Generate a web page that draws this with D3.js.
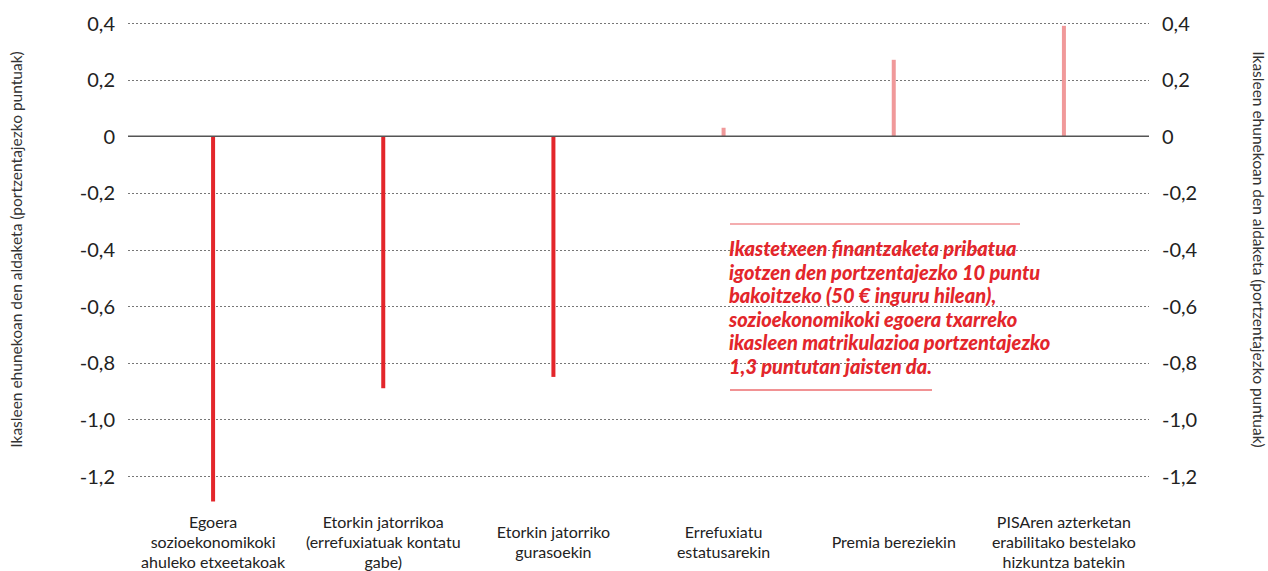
<!DOCTYPE html>
<html lang="eu">
<head>
<meta charset="UTF-8">
<title>Ikasleen ehunekoan den aldaketa</title>
<style>
  body { margin: 0; background: #fff; font-family: Lato, 'Open Sans', sans-serif; }
  .grid line { stroke: #777; stroke-width: 1; stroke-dasharray: 2 2; }
  .tick text { font-size: 20px; fill: #222; font-family: Lato, sans-serif; }
  .cat { font-size: 16px; fill: #222; text-anchor: middle; }
  .ytitle { font-size: 15.5px; fill: #333; text-anchor: middle; }
  .note { font-size: 20px; font-weight: 900; font-style: italic; fill: #e3262b; }
</style>
</head>
<body>
<script src="https://d3js.org/d3.v7.min.js"></script>
<script>
// categories (each as lines of label text)
const categories = [
  ["Egoera", "sozioekonomikoki", "ahuleko etxeetakoak"],
  ["Etorkin jatorrikoa", "(errefuxiatuak kontatu", "gabe)"],
  ["Etorkin jatorriko", "gurasoekin"],
  ["Errefuxiatu", "estatusarekin"],
  ["Premia bereziekin"],
  ["PISAren azterketan", "erabilitako bestelako", "hizkuntza batekin"]
];
const values = [-1.29, -0.89, -0.85, 0.03, 0.27, 0.39];
const tickValues = [0.4, 0.2, 0, -0.2, -0.4, -0.6, -0.8, -1.0, -1.2];
const yTitle = "Ikasleen ehunekoan den aldaketa (portzentajezko puntuak)";
const noteLines = [
  "Ikastetxeen finantzaketa pribatua",
  "igotzen den portzentajezko 10 puntu",
  "bakoitzeko (50 € inguru hilean),",
  "sozioekonomikoki egoera txarreko",
  "ikasleen matrikulazioa portzentajezko",
  "1,3 puntutan jaisten da."
];

const width = 1268, height = 571;
const left = 128, right = 1149;

const svg = d3.select("body").append("svg")
  .attr("width", width).attr("height", height);

const x = d3.scaleBand().domain(d3.range(categories.length)).range([left, right]);
const y = d3.scaleLinear().domain([-1.2, 0.4]).range([476, 23]);

const fmt = v => v === 0 ? "0" : d3.format(".1f")(v).replace(".", ",").replace("−", "-");

// gridlines
const grid = svg.append("g").attr("class", "grid");
grid.selectAll("line").data(tickValues.filter(v => v !== 0)).enter().append("line")
  .attr("x1", left).attr("x2", right)
  .attr("y1", d => Math.round(y(d)) + 0.5).attr("y2", d => Math.round(y(d)) + 0.5);

// axes (labels only)
const yl = svg.append("g").attr("transform", `translate(${left - 10},0)`)
  .call(d3.axisLeft(y).tickValues(tickValues).tickFormat(fmt).tickSize(0));
const yr = svg.append("g").attr("transform", `translate(${right + 10},0)`)
  .call(d3.axisRight(y).tickValues(tickValues).tickFormat(fmt).tickSize(0));
[yl, yr].forEach(g => { g.select(".domain").remove(); g.selectAll("text").attr("dy", "0.35em"); });

// bars
svg.selectAll(".bar").data(values).enter().append("rect")
  .attr("class", "bar")
  .attr("x", (d, i) => x(i) + x.bandwidth() / 2 - 2)
  .attr("width", 4)
  .attr("y", d => y(Math.max(0, d)))
  .attr("height", d => Math.abs(y(d) - y(0)))
  .attr("fill", d => d < 0 ? "#e3262b" : "#f0999a");

// zero line
svg.append("line")
  .attr("x1", left).attr("x2", right)
  .attr("y1", y(0)).attr("y2", y(0))
  .attr("stroke", "#555").attr("stroke-width", 1.5);

// category labels
svg.selectAll(".cat").data(categories).enter().append("text")
  .attr("class", "cat")
  .attr("x", (d, i) => x(i) + x.bandwidth() / 2)
  .attr("y", d => 528 + (3 - d.length) * 10)
  .selectAll("tspan").data(d => d).enter().append("tspan")
  .attr("x", function () { return d3.select(this.parentNode).attr("x"); })
  .attr("dy", (d, i) => i === 0 ? 0 : 20)
  .text(d => d);

// axis titles
svg.append("text").attr("class", "ytitle")
  .attr("transform", `translate(22,${y(-0.4)}) rotate(-90)`)
  .text(yTitle);
svg.append("text").attr("class", "ytitle")
  .attr("transform", `translate(1253,${y(-0.4)}) rotate(90)`)
  .text(yTitle);

// annotation
const note = svg.append("g");
note.append("line").attr("x1", 730).attr("x2", 1020).attr("y1", 224).attr("y2", 224)
  .attr("stroke", "#e3262b").attr("stroke-opacity", 0.75).attr("stroke-width", 1.2);
note.append("line").attr("x1", 730).attr("x2", 932).attr("y1", 390).attr("y2", 390)
  .attr("stroke", "#e3262b").attr("stroke-width", 1.2);
note.append("text").attr("class", "note")
  .selectAll("tspan").data(noteLines).enter().append("tspan")
  .attr("x", 729).attr("y", (d, i) => 256 + i * 23.6)
  .text(d => d);
</script>
</body>
</html>
